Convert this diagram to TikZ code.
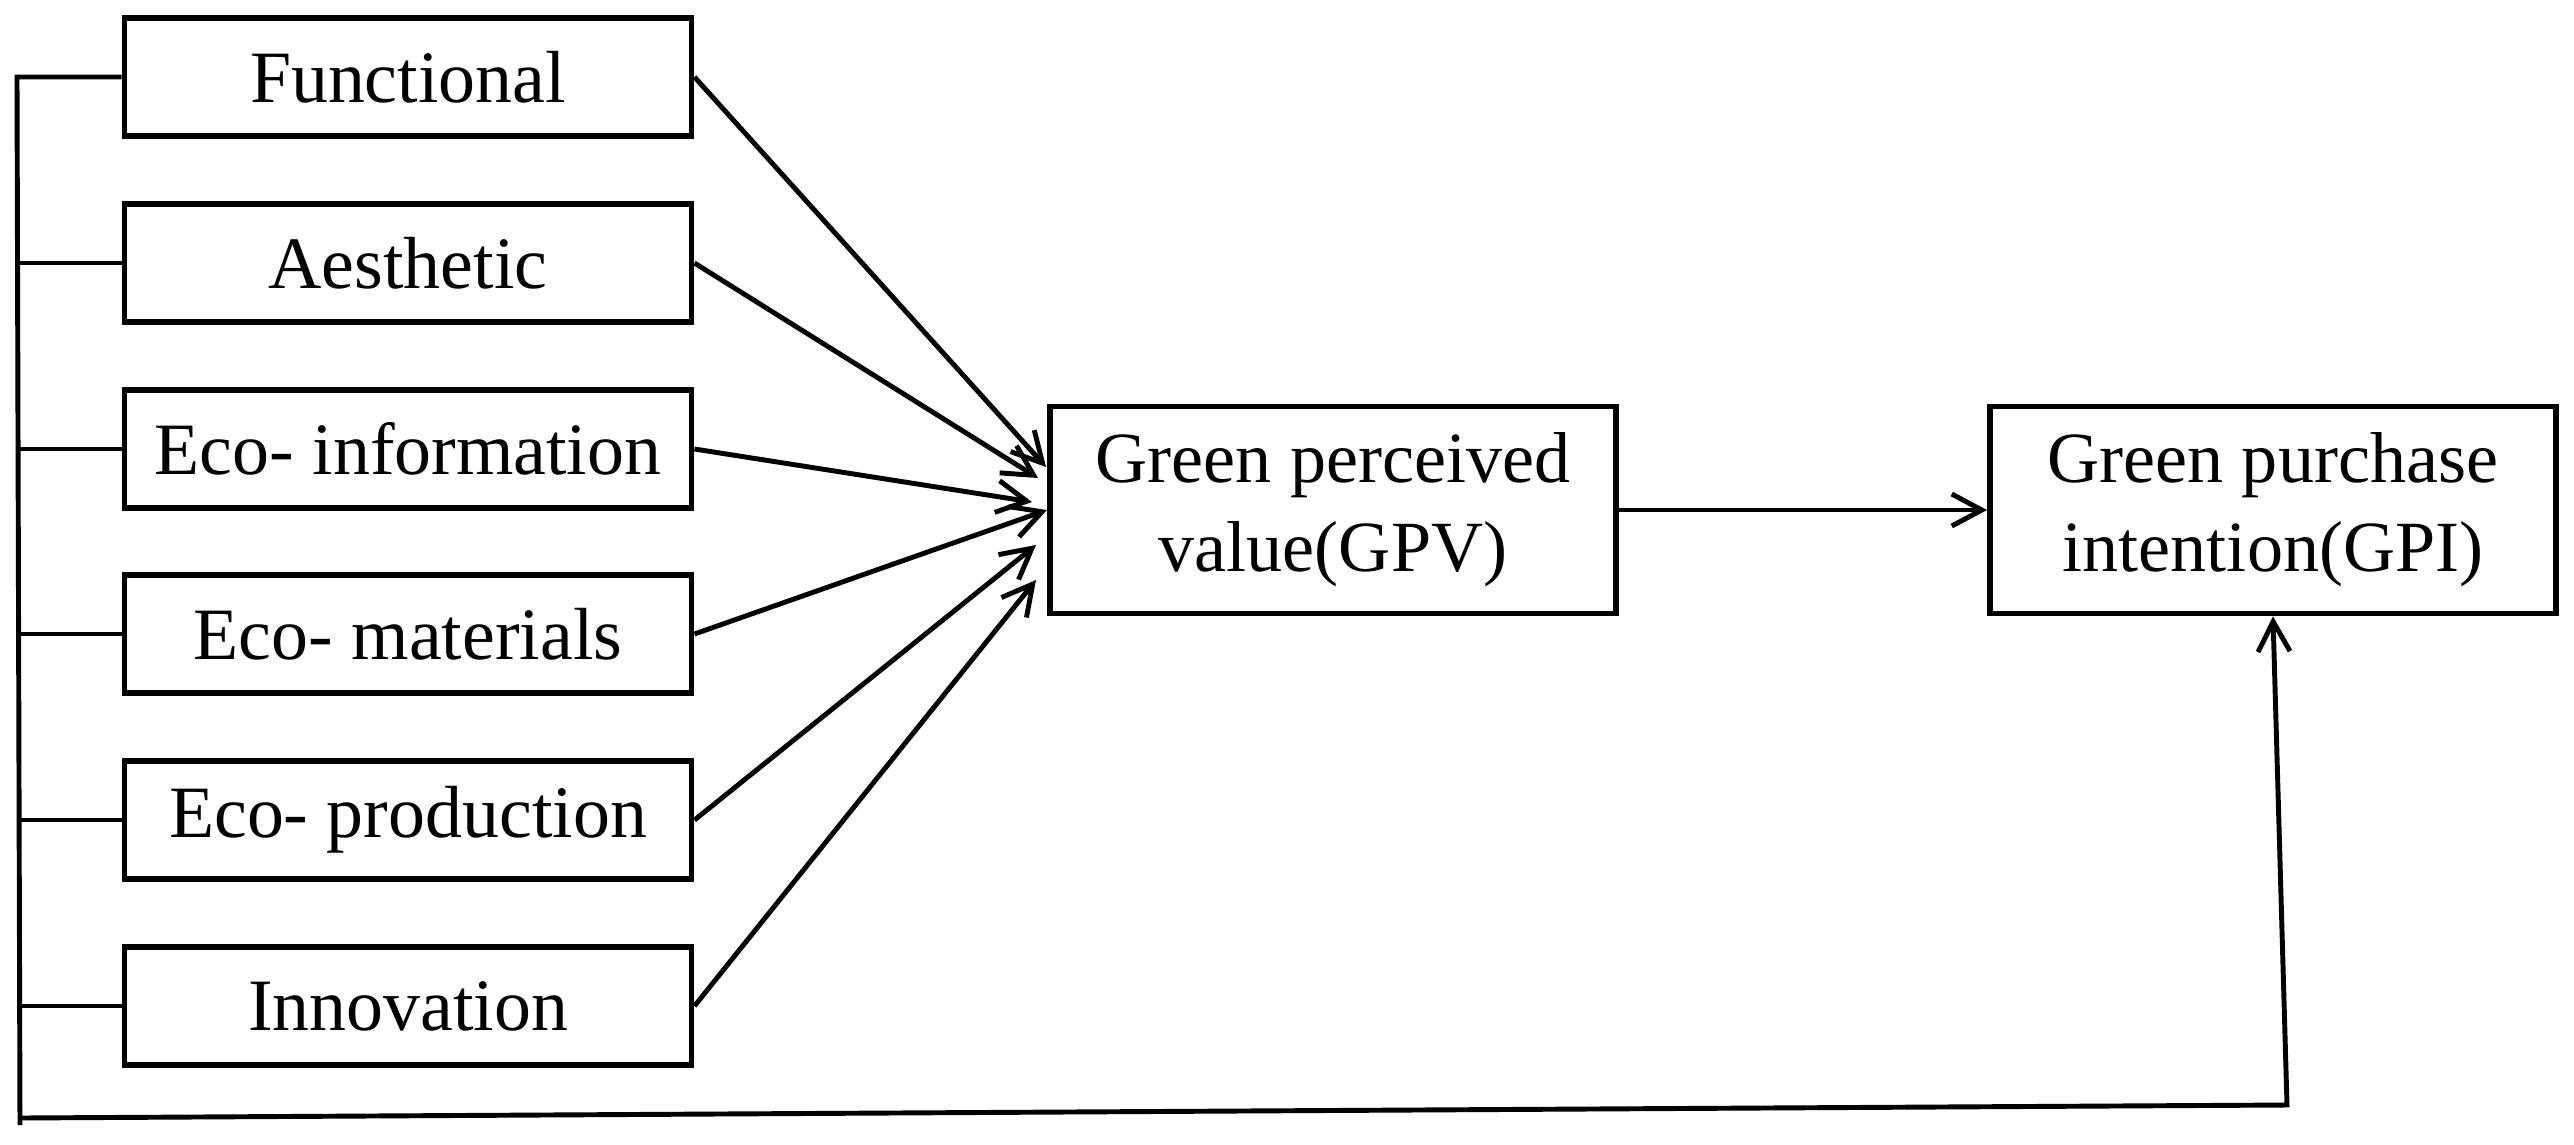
\documentclass[tikz,border=0pt]{standalone}
\usepackage{fontspec}
\setmainfont{Liberation Serif}
\usetikzlibrary{arrows.meta}
\begin{document}
\begin{tikzpicture}[x=0.01cm,y=-0.01cm,
  box/.style={draw, line width=1.6pt, minimum width=5.67cm, minimum height=1.18cm,
    inner sep=0pt, font=\fontsize{21}{25}\selectfont},
  bigbox/.style={draw, line width=1.6pt, minimum width=5.66cm, minimum height=2.07cm,
    inner sep=0pt, align=center, font=\fontsize{20.5}{25.3}\selectfont},
  conn/.style={line width=1.4pt},
  arr/.style={line width=1.4pt, -{Straight Barb[length=0.3cm,width=0.32cm]}}]
\useasboundingbox (0,0) rectangle (2574,1144);
% factor boxes
\node[box] (f)  at (408,77)   {Functional};
\node[box] (ae) at (408,263)  {Aesthetic};
\node[box] (ei) at (408,449)  {Eco- information};
\node[box] (em) at (408,634)  {Eco- materials};
\node[box] (ep) at (408,820)  {Eco- production};
\node[box] (in) at (408,1006) {Innovation};
% outcome boxes
\node[bigbox] (gpv) at (1333,510)  {Green perceived\\value(GPV)};
\node[bigbox] (gpi) at (2273,510) {Green purchase\\intention(GPI)};
% arrow tips at GPV
\coordinate (t1) at (1046,467);
\coordinate (t2) at (1038,478);
\coordinate (t3) at (1032,502);
\coordinate (t4) at (1047,510);
\coordinate (t5) at (1036,545);
\coordinate (t6) at (1036,580);
\draw[arr] (f.east)  -- (t1);
\draw[arr] (ae.east) -- (t2);
\draw[arr] (ei.east) -- (t3);
\draw[arr] (em.east) -- (t4);
\draw[arr] (ep.east) -- (t5);
\draw[arr] (in.east) -- (t6);
\draw[arr] (gpv.east) -- (gpi.west);
% left bus
\coordinate (bt) at (17,77);
\coordinate (bx) at (20,1125);
\coordinate (bb) at (20,1118);
\coordinate (br) at (2287,1105);
\draw[conn] (f.west) -- (bt) -- (bx);
\foreach \n in {ae,ei,em,ep,in}{
  \draw[conn] (\n.west) -- (\n.west -| bt);
}
\draw[arr] (bb) -- (br) -- (gpi.south);
\end{tikzpicture}
\end{document}
